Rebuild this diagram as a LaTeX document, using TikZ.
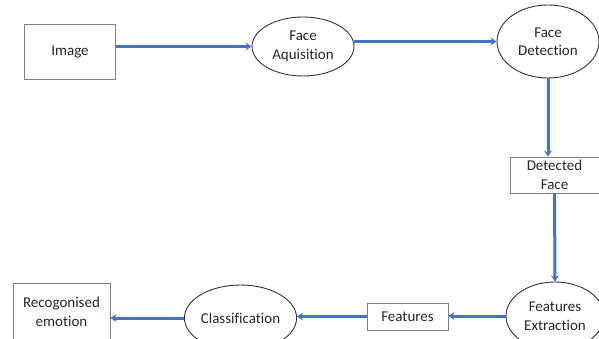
\documentclass[tikz,border=0pt]{standalone}
\usepackage{fontspec}
\setmainfont{Carlito}[Ligatures={NoCommon,NoDiscretionary}]
\usetikzlibrary{shapes.geometric, arrows.meta, positioning}
\definecolor{linkblue}{RGB}{68,114,196}

\begin{document}
\begin{tikzpicture}[
        x=1pt, y=-1pt,
        font=\fontsize{15}{18.5}\selectfont,
        every node/.style={text=black!85, align=center, inner sep=0pt},
        block/.style={rectangle, draw=black!50, line width=0.9pt},
        stage/.style={ellipse, draw=black!80, line width=0.9pt},
        line/.style={draw=linkblue, line width=3pt, -{Stealth[length=6pt,width=8pt]}}
    ]
    \useasboundingbox (0,0) rectangle (599,339);

    % nodes
    \node[block, minimum width=91pt, minimum height=55pt] (image) at (70,51.5) {Image};
    \node[stage, minimum width=102pt, minimum height=59pt] (acq) at (303,46.5) {Face\\Aquisition};
    \node[stage, minimum width=102pt, minimum height=73pt] (det) at (548,41.5) {Face\\Detection};
    \node[block, minimum width=89pt, minimum height=36pt] (dface) at (554.5,175) {Detected\\Face};
    \node[stage, minimum width=98pt, minimum height=68pt] (fext) at (555,316) {Features\\Extraction};
    \node[block, minimum width=81pt, minimum height=27pt] (feat) at (407.5,316.5) {Features};
    \node[stage, minimum width=105pt, minimum height=66pt] (cls) at (240.5,318) {Classification};
    \node[block, minimum width=97pt, minimum height=58pt] (emo) at (61.5,312) {Recogonised\\emotion};

    % lines
    \path[line] (image.east |- acq.west) -- (acq.west);
    \path[line] (acq.east |- det.west) -- (det.west);
    \path[line] (det.south) -- (det.south |- dface.north);
    \path[line] (dface.south) -- (fext.north);
    \path[line] (fext.west) -- (fext.west -| feat.east);
    \path[line] (feat.west) -- (feat.west -| cls.east);
    \path[line] (cls.west) -- (cls.west -| emo.east);

\end{tikzpicture}
\end{document}
